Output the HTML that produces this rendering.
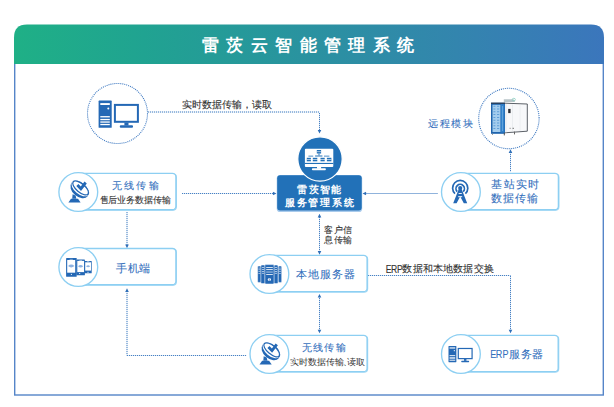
<!DOCTYPE html>
<html><head><meta charset="utf-8">
<style>
html,body{margin:0;padding:0;background:#fff;width:614px;height:407px;overflow:hidden}
svg{display:block}
text{font-family:"Liberation Sans",sans-serif}
.ln{fill:none;stroke:#4781c4;stroke-width:1;stroke-dasharray:1 1}
</style></head>
<body>
<svg width="614" height="407" viewBox="0 0 614 407">
<defs>
<linearGradient id="hg" x1="14" y1="0" x2="604" y2="0" gradientUnits="userSpaceOnUse">
<stop offset="0" stop-color="#1fb086"/>
<stop offset="0.22" stop-color="#20a391"/>
<stop offset="0.5" stop-color="#2a92a0"/>
<stop offset="0.75" stop-color="#3385ae"/>
<stop offset="1" stop-color="#3b76bc"/>
</linearGradient>
</defs>

<rect x="14.7" y="40" width="588.6" height="355" fill="none" stroke="#5585c8" stroke-width="1.4"/>
<path d="M14 64 V37.5 Q14 24.5 27 24.5 H591 Q604 24.5 604 37.5 V64 Z" fill="url(#hg)"/>
<text x="202.13 226.48 250.83 275.18 299.53 323.88 348.23 372.58 396.93" y="51.14" font-size="17" fill="#fff" font-weight="bold">雷茨云智能管理系统</text>
<path d="M148 112 H319.5" fill="none" stroke="#4781c4" stroke-width="1" opacity="0.2"/>
<path class="ln" d="M148 112 H319.5"/>
<path d="M319.5 113 V131" fill="none" stroke="#4781c4" stroke-width="1" opacity="0.2"/>
<path class="ln" d="M319.5 113 V131"/>
<path d="M182 193.5 H274" fill="none" stroke="#4781c4" stroke-width="1" opacity="0.2"/>
<path class="ln" d="M182 193.5 H274"/>
<path d="M437.5 193.5 H365" fill="none" stroke="#4781c4" stroke-width="1" opacity="0.2"/>
<path class="ln" d="M437.5 193.5 H365"/>
<path d="M510.5 152 V172" fill="none" stroke="#4781c4" stroke-width="1" opacity="0.2"/>
<path class="ln" d="M510.5 152 V172"/>
<path d="M127 212 V245" fill="none" stroke="#4781c4" stroke-width="1" opacity="0.2"/>
<path class="ln" d="M127 212 V245"/>
<path d="M127 291 V355.5" fill="none" stroke="#4781c4" stroke-width="1" opacity="0.2"/>
<path class="ln" d="M127 291 V355.5"/>
<path d="M127 355.5 H246.5" fill="none" stroke="#4781c4" stroke-width="1" opacity="0.2"/>
<path class="ln" d="M127 355.5 H246.5"/>
<path d="M319.5 217 V251" fill="none" stroke="#4781c4" stroke-width="1" opacity="0.2"/>
<path class="ln" d="M319.5 217 V251"/>
<path d="M319.5 296 V330" fill="none" stroke="#4781c4" stroke-width="1" opacity="0.2"/>
<path class="ln" d="M319.5 296 V330"/>
<path d="M368 275.5 H510.5" fill="none" stroke="#4781c4" stroke-width="1" opacity="0.2"/>
<path class="ln" d="M368 275.5 H510.5"/>
<path d="M510.5 276 V330" fill="none" stroke="#4781c4" stroke-width="1" opacity="0.2"/>
<path class="ln" d="M510.5 276 V330"/>
<path fill="#2f6fb8" d="M319.5 133.5 l-1.8 -3.6 h3.6z M276.5 193.5 l-3.6 -1.8 v3.6z M362.5 193.5 l3.6 -1.8 v3.6z M510.5 149.3 l-1.8 3.6 h3.6z M127 248.2 l-1.8 -3.6 h3.6z M127 288.3 l-1.8 3.6 h3.6z M319.5 213.8 l-1.8 3.6 h3.6z M319.5 254.7 l-1.8 -3.6 h3.6z M319.5 294 l-1.8 3.6 h3.6z M319.5 333.3 l-1.8 -3.6 h3.6z M510.5 333.3 l-1.8 -3.6 h3.6z"/>
<circle cx="117.5" cy="113.5" r="30" fill="#fff" stroke="#3b77c0" stroke-width="1.1" stroke-dasharray="1 1"/>
<text x="182.00 192.00 202.00 212.00 222.00 232.00 242.00 252.00 262.00" y="108.19" font-size="9.5" fill="#333333" stroke="#333333" stroke-width="0.1">实时数据传输，读取</text>
<circle cx="508.9" cy="118.5" r="30.2" fill="#fff" stroke="#3b77c0" stroke-width="1.1" stroke-dasharray="1 1"/>
<text x="428.30 439.87 451.44 463.01" y="126.93" font-size="10.4" fill="#3470bd" stroke="#3470bd" stroke-width="0.08">远程模块</text>
<rect x="276.7" y="174.9" width="85.5" height="37.1" rx="3.6" fill="#a9cbec"/>
<rect x="277.2" y="175.3" width="84.5" height="35.3" rx="3" fill="#2271b8"/>
<circle cx="320" cy="159" r="22.2" fill="#2271b8" stroke="#fff" stroke-width="1.2"/>
<text x="297.30 308.65 320.00 331.35" y="193.06" font-size="10.2" fill="#fff" font-weight="bold">雷茨智能</text>
<text x="284.90 296.66 308.42 320.18 331.94 343.70" y="206.26" font-size="10.2" fill="#fff" font-weight="bold">服务管理系统</text>
<g>
<rect x="78.80" y="173.90" width="97.60" height="36.30" rx="3.5" fill="none" stroke="#8dcff2" stroke-width="1.2" opacity="0.8"/>
<rect x="78.30" y="173.40" width="97.60" height="36.30" rx="3.5" fill="#fff" stroke="#8dcff2" stroke-width="1.35"/>
<circle cx="78.3" cy="192" r="19.4" fill="#fff" stroke="#8dcff2" stroke-width="1.35"/>
<text x="111.70 124.00 136.30 148.60" y="189.25" font-size="10.3" fill="#3470bd" stroke="#3470bd" stroke-width="0.08">无线传输</text><text x="99.51 108.40 117.29 126.18 135.07 143.96 152.85 161.74" y="203.23" font-size="9.3" fill="#333333" stroke="#333333" stroke-width="0.1">售后业务数据传输</text>
</g>
<g>
<rect x="78.80" y="248.95" width="97.60" height="36.30" rx="3.5" fill="none" stroke="#8dcff2" stroke-width="1.2" opacity="0.8"/>
<rect x="78.30" y="248.45" width="97.60" height="36.30" rx="3.5" fill="#fff" stroke="#8dcff2" stroke-width="1.35"/>
<circle cx="78.3" cy="267.05" r="19.4" fill="#fff" stroke="#8dcff2" stroke-width="1.35"/>
<text x="116.19 127.84 139.49" y="272.09" font-size="10.6" fill="#3470bd" stroke="#3470bd" stroke-width="0.08">手机端</text>
</g>
<g>
<rect x="461.40" y="173.90" width="97.50" height="36.30" rx="3.5" fill="none" stroke="#8dcff2" stroke-width="1.2" opacity="0.8"/>
<rect x="460.90" y="173.40" width="97.50" height="36.30" rx="3.5" fill="#fff" stroke="#8dcff2" stroke-width="1.35"/>
<circle cx="460.9" cy="192" r="19.4" fill="#fff" stroke="#8dcff2" stroke-width="1.35"/>
<text x="491.39 503.56 515.74 527.90" y="188.21" font-size="10.5" fill="#3470bd" stroke="#3470bd" stroke-width="0.08">基站实时</text><text x="491.39 503.39 515.39 527.39" y="202.41" font-size="10.5" fill="#3470bd" stroke="#3470bd" stroke-width="0.08">数据传输</text>
</g>
<g>
<rect x="269.90" y="255.85" width="97.70" height="36.30" rx="3.5" fill="none" stroke="#8dcff2" stroke-width="1.2" opacity="0.8"/>
<rect x="269.40" y="255.35" width="97.70" height="36.30" rx="3.5" fill="#fff" stroke="#8dcff2" stroke-width="1.35"/>
<circle cx="269.4" cy="273.95" r="19.4" fill="#fff" stroke="#8dcff2" stroke-width="1.35"/>
<text x="296.19 308.02 319.85 331.68 343.51" y="277.82" font-size="11" fill="#3470bd" stroke="#3470bd" stroke-width="0.08">本地服务器</text>
</g>
<g>
<rect x="269.90" y="335.85" width="97.70" height="36.30" rx="3.5" fill="none" stroke="#8dcff2" stroke-width="1.2" opacity="0.8"/>
<rect x="269.40" y="335.35" width="97.70" height="36.30" rx="3.5" fill="#fff" stroke="#8dcff2" stroke-width="1.35"/>
<circle cx="269.4" cy="353.95" r="19.4" fill="#fff" stroke="#8dcff2" stroke-width="1.35"/>
<text x="301.60 313.00 324.40 335.80" y="351.25" font-size="10.3" fill="#3470bd" stroke="#3470bd" stroke-width="0.08">无线传输</text><text x="290.1 299 307.9 316.8 325.7 334.6 342.6 346.9 355.8" y="365.43" font-size="9.3" fill="#333333">实时数据传输、读取</text>
</g>
<g>
<rect x="461.40" y="335.85" width="97.30" height="36.30" rx="3.5" fill="none" stroke="#8dcff2" stroke-width="1.2" opacity="0.8"/>
<rect x="460.90" y="335.35" width="97.30" height="36.30" rx="3.5" fill="#fff" stroke="#8dcff2" stroke-width="1.35"/>
<circle cx="460.9" cy="353.95" r="19.4" fill="#fff" stroke="#8dcff2" stroke-width="1.35"/>
<text transform="translate(491 358.1) scale(0.88 1)" font-size="10.3" fill="#3470bd" stroke="#3470bd" stroke-width="0.08" x="-0.82 5.54 13.04" y="0">ERP</text><text x="509.09 520.74 532.39" y="358.46" font-size="10.8" fill="#3470bd" stroke="#3470bd" stroke-width="0.08">服务器</text>
</g>
<text x="324.01 333.61 343.21" y="232.53" font-size="9.3" fill="#333333" stroke="#333333" stroke-width="0.1">客户信</text>
<text x="324.01 333.61 343.21" y="243.03" font-size="9.3" fill="#333333" stroke="#333333" stroke-width="0.1">息传输</text>
<text transform="translate(386.4 273) scale(0.86 1)" font-size="10" fill="#333333" stroke="#333333" stroke-width="0.1" x="-0.80 5.48 12.22" y="0">ERP</text>
<text x="402.40 412.58 422.76 432.94 443.12 453.31 463.49 473.67 483.85" y="272.19" font-size="9.5" fill="#333333" stroke="#333333" stroke-width="0.1">数据和本地数据交换</text>
<!-- ICONS -->
<defs>
<g id="pc">
<rect x="98.6" y="100.6" width="13.1" height="27.2" rx="0.6" fill="#2468b5"/>
<rect x="100.3" y="103.1" width="9.5" height="1.9" fill="#fff"/>
<circle cx="108.3" cy="108.6" r="1" fill="#fff"/>
<g fill="#fff"><rect x="100.3" y="116.1" width="9.5" height="1.3"/><rect x="100.3" y="118.9" width="9.5" height="1.3"/><rect x="100.3" y="121.4" width="9.5" height="1.3"/><rect x="100.3" y="123.9" width="9.5" height="1.3"/></g>
<rect x="114.9" y="104.9" width="23" height="16.9" fill="#fff" stroke="#2468b5" stroke-width="2"/>
<rect x="124.4" y="122.5" width="4.1" height="3" fill="#2468b5"/>
<rect x="119.8" y="125.3" width="13.2" height="2.4" rx="1" fill="#2468b5"/>
</g>
</defs>
<use href="#pc"/>
<use href="#pc" transform="translate(389.34 285.54) scale(0.6)"/>

<!-- center monitor -->
<g>
<rect x="304.9" y="148.7" width="28.4" height="18.4" rx="1" fill="#fff"/>
<rect x="304.9" y="162.9" width="28.4" height="1.1" fill="#2271b8"/>
<rect x="317" y="167" width="4.1" height="1.8" fill="#fff"/>
<rect x="311.9" y="168.3" width="14" height="1.9" rx="0.9" fill="#fff"/>
<g fill="#2271b8">
<rect x="316.8" y="150" width="4.3" height="3.5"/>
<rect x="306.8" y="157.8" width="4.1" height="3.5"/>
<rect x="312.8" y="157.8" width="4.5" height="3.5"/>
<rect x="320.5" y="157.8" width="4.2" height="3.5"/>
<rect x="326.9" y="157.8" width="4.5" height="3.5"/>
<rect x="308.4" y="155.7" width="4.8" height="0.8"/>
<rect x="315.1" y="155.5" width="7.3" height="1"/>
<rect x="318.5" y="153.5" width="1" height="2"/>
<rect x="324" y="155.7" width="5.4" height="0.8"/>
</g>
<g fill="#fff">
<rect x="316.8" y="151.5" width="4.3" height="0.6"/>
<rect x="306.8" y="159.3" width="24.6" height="0.6"/>
</g>
</g>

<!-- satellite dish -->
<g id="dish">
<g transform="translate(80.3 188.3) rotate(40)">
<ellipse cx="0.3" cy="1.4" rx="10.5" ry="7.1" fill="#2468b5"/>
<ellipse cx="0" cy="0.4" rx="10.2" ry="5.4" fill="#fff"/>
<ellipse cx="0" cy="-0.5" rx="10.3" ry="4.9" fill="#2468b5"/>
<ellipse cx="0" cy="-0.5" rx="9" ry="3.6" fill="#fff"/>
</g>
<path d="M76.3 186 L78.4 184.1 L80.8 186.5 L84.5 181.6 L86.8 183.4 L81 190.9 Z" fill="#2468b5"/>
<path d="M72.6 194.2 L75.6 195.6 L76.4 198.8 H72.2 Z" fill="#2468b5"/>
<path d="M71 198.8 H78 L80.6 202.5 H68.4 Z" fill="#2468b5"/>
</g>
<use href="#dish" transform="translate(191.1 161.95)"/>

<!-- antenna tower -->
<g fill="none" stroke="#2468b5">
<path d="M455 193.6 A7.6 7.6 0 1 1 465.4 193.6" stroke-width="1.7"/>
<path d="M457.2 191.6 A4.2 4.2 0 1 1 463.2 191.6" stroke-width="1.7"/>
</g>
<circle cx="460.2" cy="188" r="2.1" fill="#2468b5"/>
<path d="M458.8 189 H461.6 L467.2 203.3 H463.8 L460.2 196.5 L456.6 203.3 H453.2 Z" fill="#2468b5"/>
<rect x="458.6" y="193" width="3.2" height="0.9" fill="#fff"/>
<rect x="458.2" y="196.2" width="4" height="1" fill="#fff"/>

<!-- phones -->
<g>
<rect x="76.4" y="259.4" width="8.5" height="15.9" rx="0.6" fill="#2468b5"/>
<rect x="77.3" y="260.9" width="6.8" height="11.2" fill="#fff"/>
<rect x="84.3" y="260.9" width="7.4" height="12.4" rx="0.6" fill="#2468b5"/>
<rect x="85.2" y="262.3" width="5.8" height="8.3" fill="#fff"/>
<rect x="66.1" y="257.9" width="10.6" height="18.9" rx="0.6" fill="#2468b5"/>
<rect x="67.2" y="260" width="8" height="12.7" fill="#fff"/>
<g fill="#fff"><rect x="70.9" y="273.9" width="1" height="1"/><rect x="79.2" y="273" width="1" height="1"/><rect x="87.5" y="271.8" width="1" height="1"/></g>
<g fill="#8db2e2">
<path d="M68 266 Q71.2 263.2 74.4 266 Q71.2 268.8 68 266Z"/>
<path d="M78 266.2 Q80.6 263.8 83.2 266.2 Q80.6 268.6 78 266.2Z"/>
<path d="M86 266.2 Q88.1 264.2 90.2 266.2 Q88.1 268.2 86 266.2Z"/>
</g>
<g fill="#fff" opacity="0.9">
<rect x="69.6" y="258.9" width="3.2" height="0.5"/>
<rect x="79.3" y="260.1" width="2.8" height="0.5"/>
<rect x="86.9" y="261.5" width="2.4" height="0.5"/>
</g>
</g>

<!-- server -->
<g fill="#2468b5" stroke="#fff" stroke-width="0.5">
<rect x="257.6" y="266" width="3.6" height="16.4" rx="1"/>
<rect x="278.1" y="266" width="3.6" height="16.4" rx="1"/>
<rect x="260.9" y="265" width="4.2" height="18.6" rx="1"/>
<rect x="273.8" y="265" width="4.2" height="18.6" rx="1"/>
<rect x="264.9" y="264.6" width="9.1" height="19.4" rx="1"/>
</g>
<g fill="#fff">
<rect x="266.2" y="267" width="6.6" height="0.8"/>
<rect x="266.2" y="269.1" width="6.6" height="0.8"/>
<rect x="266.2" y="270.9" width="6.6" height="0.6" opacity="0.6"/>
<rect x="266.2" y="272.2" width="6.6" height="0.6" opacity="0.6"/>
<rect x="266.2" y="274.2" width="6.6" height="0.8"/>
<circle cx="269.4" cy="279.5" r="1.6"/>
<rect x="261.9" y="267.3" width="2.2" height="0.6"/><rect x="261.9" y="269.2" width="2.2" height="0.6"/><rect x="261.9" y="271" width="2.2" height="0.6"/><rect x="261.9" y="272.9" width="2.2" height="0.6"/>
<rect x="274.8" y="267.3" width="2.2" height="0.6"/><rect x="274.8" y="269.2" width="2.2" height="0.6"/><rect x="274.8" y="271" width="2.2" height="0.6"/><rect x="274.8" y="272.9" width="2.2" height="0.6"/>
<rect x="258.4" y="267.8" width="2" height="0.5"/><rect x="258.4" y="269.6" width="2" height="0.5"/><rect x="258.4" y="271.4" width="2" height="0.5"/><rect x="258.4" y="273.2" width="2" height="0.5"/>
<rect x="278.9" y="267.8" width="2" height="0.5"/><rect x="278.9" y="269.6" width="2" height="0.5"/><rect x="278.9" y="271.4" width="2" height="0.5"/><rect x="278.9" y="273.2" width="2" height="0.5"/>
</g>
<path d="M269.4 278.4 v1.4 M268.7 280.3 h1.4" stroke="#2468b5" stroke-width="0.6"/>

<!-- remote module device -->
<g>
<path d="M503.8 99.2 h9.5 l1.5 1.2 v1.6 h-11 z" fill="#b8c4c8"/>
<ellipse cx="513.8" cy="99.6" rx="1.6" ry="1.3" fill="none" stroke="#8ccfc0" stroke-width="0.8"/>
<path d="M504.8 103.2 L527.3 104 V131.2 L504.8 132.8 Z" fill="#f7f8fa"/>
<path d="M504.8 103.2 L527.3 104 V131.2 L504.8 132.8" fill="none" stroke="#4a4f57" stroke-width="0.9"/>
<rect x="512.2" y="104.5" width="0.5" height="27" fill="#dde2e7"/>
<rect x="519.8" y="104.5" width="0.5" height="26.5" fill="#e3e7eb"/>
<rect x="505.3" y="104" width="1.3" height="28.3" fill="#e9edf1"/>
<rect x="508.2" y="108.9" width="2.4" height="4.2" fill="#2a2d33"/>
<rect x="509.6" y="127.8" width="1" height="1" fill="#777"/>
<rect x="512.6" y="127.8" width="1.2" height="1" fill="#555"/>
<rect x="491" y="102.8" width="14" height="31" fill="#1f64ad"/>
<rect x="492.5" y="104.8" width="8" height="27.2" fill="#a4cdee"/>
<g fill="#4f93d2">
<rect x="493.4" y="105.8" width="2" height="0.8"/><rect x="497" y="105.8" width="2.2" height="0.8"/>
<rect x="493.4" y="108.6" width="2" height="0.8"/><rect x="497" y="108.6" width="2.2" height="0.8"/>
<rect x="493.4" y="111.4" width="2" height="0.8"/><rect x="497" y="111.4" width="2.2" height="0.8"/>
<rect x="493.4" y="114.2" width="2" height="0.8"/><rect x="497" y="114.2" width="2.2" height="0.8"/>
<rect x="493.4" y="117" width="2" height="0.8"/><rect x="497" y="117" width="2.2" height="0.8"/>
<rect x="493.4" y="119.8" width="2" height="0.8"/><rect x="497" y="119.8" width="2.2" height="0.8"/>
<rect x="493.4" y="122.6" width="2" height="0.8"/><rect x="497" y="122.6" width="2.2" height="0.8"/>
<rect x="493.4" y="125.4" width="2" height="0.8"/><rect x="497" y="125.4" width="2.2" height="0.8"/>
<rect x="493.4" y="128.2" width="2" height="0.8"/><rect x="497" y="128.2" width="2.2" height="0.8"/>
</g>
<rect x="500.8" y="104.2" width="3.6" height="28.2" fill="#3282cb"/>
<rect x="502.5" y="106" width="0.5" height="25" fill="#8cc3ec"/>
<rect x="491" y="102.6" width="14" height="1.2" fill="#2b3a4e"/>
<rect x="503.8" y="132.8" width="1" height="2.6" fill="#555"/>
<rect x="514" y="131.6" width="1" height="2.8" fill="#666"/>
<rect x="492" y="133.6" width="1" height="1.2" fill="#888"/>
</g>

</svg>
</body></html>
